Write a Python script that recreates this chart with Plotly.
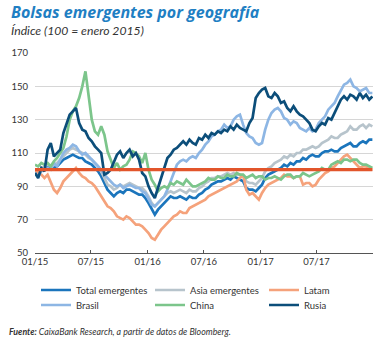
import pandas as pd
import plotly.graph_objects as go

# Índice base 100 = enero 2015, un dato cada ~10 días (ene-2015 a dic-2017)
total_emergentes = [
    100, 98, 100, 101, 102, 101, 101, 102, 104, 106, 107, 108,
    109, 108, 107, 107, 105, 104, 103, 101, 99, 96, 92, 88,
    86, 84, 86, 87, 86, 88, 88, 87, 86, 85, 85, 83,
    80, 76, 73, 76, 78, 80, 82, 84, 83, 83, 84, 83,
    82, 84, 83, 83, 85, 86, 88, 89, 91, 92, 93, 93,
    94, 95, 94, 96, 95, 94, 93, 89, 88, 88, 87, 89,
    91, 95, 97, 98, 99, 100, 101, 103, 102, 104, 103, 105,
    105, 107, 106, 108, 109, 108, 108, 110, 111, 111, 112, 111,
    111, 113, 114, 115, 116, 114, 114, 116, 117, 116, 118, 118,
]
asia_emergentes = [
    100, 99, 101, 102, 103, 102, 103, 104, 106, 108, 110, 112,
    113, 112, 111, 110, 109, 107, 106, 104, 102, 99, 95, 91,
    90, 88, 89, 91, 90, 91, 92, 91, 90, 89, 89, 87,
    84, 80, 78, 80, 82, 84, 86, 87, 86, 87, 88, 87,
    86, 88, 87, 87, 89, 90, 92, 93, 95, 95, 96, 96,
    97, 98, 97, 98, 97, 97, 96, 93, 92, 92, 91, 93,
    95, 99, 101, 102, 104, 105, 106, 108, 107, 109, 108, 110,
    110, 112, 112, 113, 114, 113, 114, 116, 117, 118, 120, 119,
    119, 121, 122, 123, 126, 124, 124, 126, 127, 125, 127, 126,
]
latam = [
    100, 98, 97, 95, 97, 93, 88, 86, 89, 93, 95, 97,
    99, 101, 98, 96, 95, 93, 92, 90, 87, 84, 81, 78,
    77, 75, 72, 71, 70, 72, 71, 69, 67, 67, 66, 64,
    62, 59, 58, 61, 64, 66, 68, 70, 72, 73, 75, 74,
    74, 77, 78, 79, 80, 81, 82, 84, 85, 86, 87, 88,
    89, 90, 91, 92, 93, 95, 97, 88, 85, 86, 84, 82,
    86, 89, 91, 92, 93, 94, 95, 97, 96, 96, 95, 96,
    96, 91, 92, 92, 90, 91, 94, 96, 98, 99, 101, 102,
    104, 106, 108, 109, 107, 105, 103, 101, 102, 102, 100, 100,
]
brasil = [
    98, 96, 99, 100, 101, 100, 104, 102, 106, 110, 112, 113,
    115, 114, 111, 109, 110, 108, 106, 104, 102, 100, 97, 95,
    93, 91, 90, 91, 89, 90, 91, 90, 89, 89, 87, 86,
    82, 79, 78, 80, 82, 84, 88, 93, 97, 103, 105, 106,
    105, 107, 108, 107, 110, 112, 115, 117, 120, 121, 123, 124,
    127, 125, 126, 130, 132, 133, 127, 122, 120, 119, 116, 115,
    116, 124, 130, 134, 136, 137, 135, 131, 130, 127, 129, 128,
    125, 124, 123, 125, 123, 124, 128, 130, 132, 136, 138, 140,
    144, 148, 151, 152, 154, 150, 149, 147, 148, 149, 146, 146,
]
china = [
    103, 102, 104, 103, 104, 102, 105, 107, 110, 113, 120, 130,
    135, 138, 143, 150, 159, 146, 130, 123, 121, 126, 121, 111,
    106, 101, 104, 100, 102, 103, 106, 111, 110, 108, 104, 110,
    100, 94, 91, 87, 89, 90, 89, 92, 91, 93, 92, 91,
    94, 92, 90, 90, 91, 92, 93, 95, 94, 94, 96, 95,
    95, 97, 96, 96, 98, 97, 97, 95, 96, 97, 95, 96,
    96, 94, 95, 95, 96, 95, 94, 96, 97, 97, 95, 96,
    96, 98, 97, 96, 97, 98, 99, 101, 100, 100, 103, 104,
    105, 104, 106, 106, 105, 106, 106, 104, 103, 103, 102, 101,
]
rusia = [
    98, 95, 101, 99, 112, 116, 108, 110, 112, 122, 127, 133,
    135, 137, 128, 124, 123, 119, 117, 114, 112, 110, 97, 98,
    100, 104, 109, 111, 107, 110, 112, 108, 110, 106, 98, 96,
    90, 86, 83, 89, 95, 102, 107, 109, 112, 113, 115, 117,
    115, 118, 116, 115, 119, 118, 121, 119, 122, 121, 123, 122,
    124, 123, 126, 124, 127, 125, 124, 123, 128, 131, 143, 146,
    148, 149, 144, 143, 146, 144, 140, 141, 137, 135, 138, 135,
    133, 132, 130, 128, 124, 123, 126, 128, 127, 131, 130, 134,
    139, 142, 144, 142, 145, 144, 142, 146, 143, 145, 142, 144,
]

series_names = ["Total emergentes", "Asia emergentes", "Latam", "Brasil", "China", "Rusia"]
series_values = [total_emergentes, asia_emergentes, latam, brasil, china, rusia]
series_colors = ["#1b75bc", "#b7c4cc", "#f5a27b", "#8db6e4", "#7cc58b", "#0c4e7a"]

BASE = 100
x_ticks = ["2015-01-01", "2015-07-01", "2016-01-01", "2016-07-01", "2017-01-01", "2017-07-01"]
x_tick_labels = ["01/15", "07/15", "01/16", "07/16", "01/17", "07/17"]
y_ticks = [50, 70, 90, 110, 130, 150, 170]

dates = pd.date_range("2015-01-01", "2017-12-29", periods=len(rusia))

FONT = "Lato"
TXT = "#333333"

# plot-area geometry in pixels, used to place the free text
W, H = 383, 338
ML, MR, MT, MB = 35, 10, 53, 85
PW, PH = W - ML - MR, H - MT - MB


def px_x(px):
    return (px - ML) / PW


def px_y(py):
    return (H - MB - py) / PH


fig = go.Figure()
for i, (name, vals, col) in enumerate(zip(series_names, series_values, series_colors)):
    fig.add_trace(go.Scatter(
        x=dates, y=vals, mode="lines", name=name,
        line=dict(color=col, width=2.7),
        legend="legend" if i < 3 else "legend2",
        hoverinfo="skip",
    ))

# reference level 100
fig.add_trace(go.Scatter(
    x=[dates[0], dates[-1]], y=[BASE, BASE], mode="lines",
    line=dict(color="#e2552b", width=3.4), showlegend=False, hoverinfo="skip",
))

legend_common = dict(
    orientation="h", xanchor="left", yanchor="middle",
    entrywidth=69, entrywidthmode="pixels",
    font=dict(family=FONT, size=9.5, color=TXT),
    bgcolor="rgba(0,0,0,0)", itemwidth=30, tracegroupgap=0,
)

fig.update_layout(
    width=W, height=H,
    margin=dict(l=ML, r=MR, t=MT, b=MB),
    paper_bgcolor="white", plot_bgcolor="white",
    font=dict(family=FONT, size=9.5, color=TXT),
    legend=dict(x=px_x(36), y=px_y(290), **legend_common),
    legend2=dict(x=px_x(36), y=px_y(305), **legend_common),
    xaxis=dict(
        type="date", range=["2015-01-01", "2017-12-31"],
        tickvals=x_ticks, ticktext=x_tick_labels,
        showgrid=False, zeroline=False,
        showline=True, linecolor="#555555", linewidth=1,
        ticks="inside", ticklen=3, tickcolor="#555555",
        tickfont=dict(family=FONT, size=9.5, color=TXT),
    ),
    yaxis=dict(
        range=[50, 170], tickvals=y_ticks,
        showgrid=True, gridcolor="#d6d6d6", gridwidth=1,
        zeroline=False, showline=False, ticks="",
        tickfont=dict(family=FONT, size=9.5, color=TXT),
        ticklabelstandoff=6,
    ),
    annotations=[
        dict(text="<b><i>Bolsas emergentes por geografía</i></b>",
             xref="paper", yref="paper", x=px_x(9), y=px_y(12),
             xanchor="left", yanchor="middle", showarrow=False,
             font=dict(family="Open Sans", size=16, color="#1f7fc3")),
        dict(text="<i>Índice (100 = enero 2015)</i>",
             xref="paper", yref="paper", x=px_x(9), y=px_y(31),
             xanchor="left", yanchor="middle", showarrow=False,
             font=dict(family=FONT, size=12.2, color=TXT)),
        dict(text="<i><b>Fuente:</b> CaixaBank Research, a partir de datos de Bloomberg.</i>",
             xref="paper", yref="paper", x=px_x(7), y=px_y(331),
             xanchor="left", yanchor="middle", showarrow=False,
             font=dict(family=FONT, size=8.8, color=TXT)),
    ],
)

fig.write_html("out.html")
